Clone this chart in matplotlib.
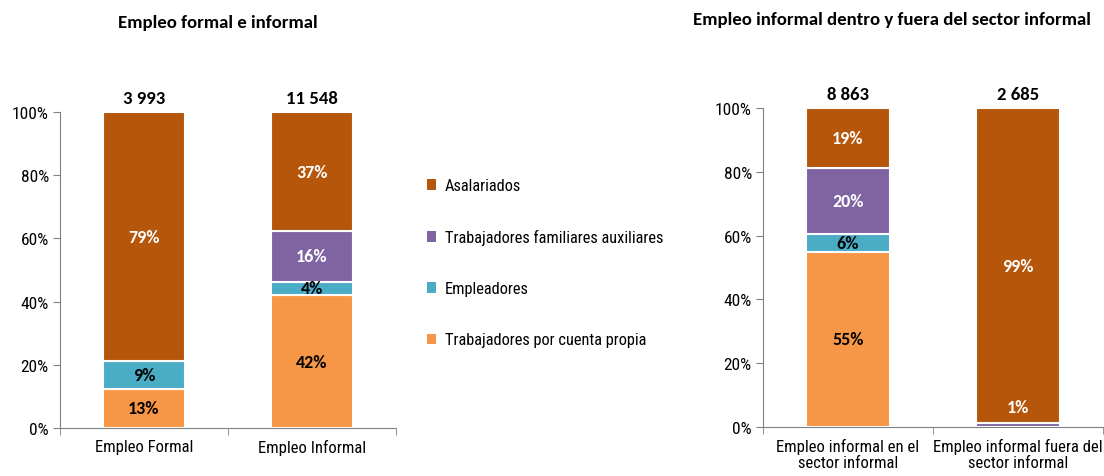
import matplotlib
matplotlib.use("Agg")
import matplotlib.pyplot as plt
from matplotlib.patches import Patch
from matplotlib.ticker import FixedLocator

# data (shares in %)
series = ["Trabajadores por cuenta propia", "Empleadores",
          "Trabajadores familiares auxiliares", "Asalariados"]
colors = ["#F79646", "#4BACC6", "#8064A2", "#B5560A"]
label_colors = ["black", "black", "white", "white"]

left_cats = ["Empleo Formal", "Empleo Informal"]
left_totals = ["3 993", "11 548"]
left_vals = [
    [12.5, 42.0],   # cuenta propia
    [8.6, 4.3],     # empleadores
    [0.0, 16.0],    # familiares
    [78.9, 37.7],   # asalariados
]
left_labels = [["13%", "42%"], ["9%", "4%"], ["", "16%"], ["79%", "37%"]]

right_cats = ["Empleo informal en el\nsector informal",
              "Empleo informal fuera del\nsector informal"]
right_totals = ["8 863", "2 685"]
right_vals = [
    [55.0, 0.0],
    [5.6, 0.0],
    [20.5, 1.2],
    [18.9, 98.8],
]
right_labels = [["55%", ""], ["6%", ""], ["20%", "1%"], ["19%", "99%"]]

TICK_FONT = ["Roboto Condensed", "DejaVu Sans"]
BOLD_FONT = ["Carlito", "DejaVu Sans"]

fig = plt.figure(figsize=(11.04, 4.77), dpi=100)
ax1 = fig.add_axes([0.0543, 0.1006, 0.3043, 0.6625])
ax2 = fig.add_axes([0.6911, 0.1027, 0.3080, 0.6688])


def draw(ax, cats, vals, labels, totals, title, title_pos):
    x = list(range(len(cats)))
    bottom = [0.0] * len(cats)
    for i, (v, c) in enumerate(zip(vals, colors)):
        ax.bar(x, v, width=0.49, bottom=bottom, color=c,
               edgecolor="white", linewidth=1.5)
        for j in x:
            if labels[i][j]:
                if v[j] < 3:
                    # tiny segment: label sits just above it
                    ypos = bottom[j] + v[j] + 5
                else:
                    ypos = bottom[j] + v[j] / 2
                ax.text(j, ypos, labels[i][j], ha="center", va="center",
                        color=label_colors[i], fontsize=13,
                        fontweight="bold", family=BOLD_FONT)
        bottom = [b + vv for b, vv in zip(bottom, v)]
    for j in x:
        ax.text(j, 102, totals[j], ha="center", va="bottom", fontsize=13.5,
                fontweight="bold", family=BOLD_FONT)
    ax.set_xlim(-0.5, len(cats) - 0.5)
    ax.set_ylim(0, 100)
    ax.set_yticks([0, 20, 40, 60, 80, 100])
    ax.set_yticklabels([f"{t}%" for t in [0, 20, 40, 60, 80, 100]],
                       family=TICK_FONT, fontsize=12.5)
    ax.set_xticks(x)
    ax.set_xticklabels(cats, family=TICK_FONT, fontsize=12, linespacing=1.05)
    ax.xaxis.set_minor_locator(FixedLocator([-0.5, 0.5, 1.5]))
    ax.tick_params(axis="x", which="major", length=0, pad=8)
    ax.tick_params(axis="x", which="minor", length=5, color="#808080")
    ax.tick_params(axis="y", length=5, color="#808080", pad=3)
    for s in ["top", "right"]:
        ax.spines[s].set_visible(False)
    for s in ["left", "bottom"]:
        ax.spines[s].set_color("#808080")
    fig.text(title_pos[0], title_pos[1], title, ha="center", va="center",
             fontsize=13.5, fontweight="bold", family=BOLD_FONT)


draw(ax1, left_cats, left_vals, left_labels, left_totals,
     "Empleo formal e informal", (0.197, 0.952))
draw(ax2, right_cats, right_vals, right_labels, right_totals,
     "Empleo informal dentro y fuera del sector informal", (0.808, 0.958))

handles = [Patch(facecolor=colors[i]) for i in [3, 2, 1, 0]]
names = [series[i] for i in [3, 2, 1, 0]]
fig.legend(handles, names, loc="upper left", bbox_to_anchor=(0.373, 0.655),
           frameon=False, handlelength=0.6, handleheight=0.6,
           handletextpad=0.5, labelspacing=2.2,
           prop={"family": TICK_FONT, "size": 11.8})

fig.savefig("out.png", dpi=100)
